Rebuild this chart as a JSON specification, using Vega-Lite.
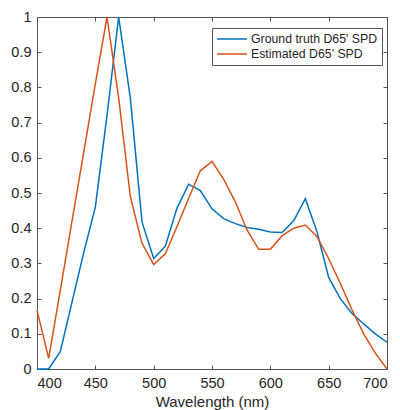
{
  "$schema": "https://vega.github.io/schema/vega-lite/v6.json",
  "autosize": "none",
  "width": 350,
  "height": 352,
  "padding": {"left": 37, "top": 17, "right": 13, "bottom": 41},
  "background": "white",
  "config": {
    "font": "Liberation Sans",
    "view": {"stroke": "#555555", "strokeWidth": 1},
    "axis": {"grid": false, "domainColor": "#555555", "tickColor": "#555555", "labelColor": "#262626", "titleColor": "#262626", "labelFont": "Liberation Sans", "titleFont": "Liberation Sans"}
  },
  "data": {
    "values": [
      {"wl": 400, "v": 0.0, "s": "Ground truth D65' SPD"},
      {"wl": 410, "v": 0.0, "s": "Ground truth D65' SPD"},
      {"wl": 420, "v": 0.05, "s": "Ground truth D65' SPD"},
      {"wl": 430, "v": 0.19, "s": "Ground truth D65' SPD"},
      {"wl": 440, "v": 0.33, "s": "Ground truth D65' SPD"},
      {"wl": 450, "v": 0.46, "s": "Ground truth D65' SPD"},
      {"wl": 460, "v": 0.72, "s": "Ground truth D65' SPD"},
      {"wl": 470, "v": 1.0, "s": "Ground truth D65' SPD"},
      {"wl": 480, "v": 0.77, "s": "Ground truth D65' SPD"},
      {"wl": 490, "v": 0.418, "s": "Ground truth D65' SPD"},
      {"wl": 500, "v": 0.314, "s": "Ground truth D65' SPD"},
      {"wl": 510, "v": 0.349, "s": "Ground truth D65' SPD"},
      {"wl": 520, "v": 0.457, "s": "Ground truth D65' SPD"},
      {"wl": 530, "v": 0.525, "s": "Ground truth D65' SPD"},
      {"wl": 540, "v": 0.507, "s": "Ground truth D65' SPD"},
      {"wl": 550, "v": 0.455, "s": "Ground truth D65' SPD"},
      {"wl": 560, "v": 0.427, "s": "Ground truth D65' SPD"},
      {"wl": 570, "v": 0.413, "s": "Ground truth D65' SPD"},
      {"wl": 580, "v": 0.402, "s": "Ground truth D65' SPD"},
      {"wl": 590, "v": 0.397, "s": "Ground truth D65' SPD"},
      {"wl": 600, "v": 0.389, "s": "Ground truth D65' SPD"},
      {"wl": 610, "v": 0.388, "s": "Ground truth D65' SPD"},
      {"wl": 620, "v": 0.421, "s": "Ground truth D65' SPD"},
      {"wl": 630, "v": 0.484, "s": "Ground truth D65' SPD"},
      {"wl": 640, "v": 0.39, "s": "Ground truth D65' SPD"},
      {"wl": 650, "v": 0.26, "s": "Ground truth D65' SPD"},
      {"wl": 660, "v": 0.2, "s": "Ground truth D65' SPD"},
      {"wl": 670, "v": 0.158, "s": "Ground truth D65' SPD"},
      {"wl": 680, "v": 0.128, "s": "Ground truth D65' SPD"},
      {"wl": 690, "v": 0.1, "s": "Ground truth D65' SPD"},
      {"wl": 700, "v": 0.076, "s": "Ground truth D65' SPD"},
      {"wl": 400, "v": 0.167, "s": "Estimated D65' SPD"},
      {"wl": 410, "v": 0.03, "s": "Estimated D65' SPD"},
      {"wl": 420, "v": 0.224, "s": "Estimated D65' SPD"},
      {"wl": 430, "v": 0.42, "s": "Estimated D65' SPD"},
      {"wl": 440, "v": 0.615, "s": "Estimated D65' SPD"},
      {"wl": 450, "v": 0.81, "s": "Estimated D65' SPD"},
      {"wl": 460, "v": 1.0, "s": "Estimated D65' SPD"},
      {"wl": 470, "v": 0.77, "s": "Estimated D65' SPD"},
      {"wl": 480, "v": 0.49, "s": "Estimated D65' SPD"},
      {"wl": 490, "v": 0.357, "s": "Estimated D65' SPD"},
      {"wl": 500, "v": 0.297, "s": "Estimated D65' SPD"},
      {"wl": 510, "v": 0.327, "s": "Estimated D65' SPD"},
      {"wl": 520, "v": 0.405, "s": "Estimated D65' SPD"},
      {"wl": 530, "v": 0.485, "s": "Estimated D65' SPD"},
      {"wl": 540, "v": 0.563, "s": "Estimated D65' SPD"},
      {"wl": 550, "v": 0.59, "s": "Estimated D65' SPD"},
      {"wl": 560, "v": 0.539, "s": "Estimated D65' SPD"},
      {"wl": 570, "v": 0.475, "s": "Estimated D65' SPD"},
      {"wl": 580, "v": 0.395, "s": "Estimated D65' SPD"},
      {"wl": 590, "v": 0.34, "s": "Estimated D65' SPD"},
      {"wl": 600, "v": 0.34, "s": "Estimated D65' SPD"},
      {"wl": 610, "v": 0.378, "s": "Estimated D65' SPD"},
      {"wl": 620, "v": 0.4, "s": "Estimated D65' SPD"},
      {"wl": 630, "v": 0.409, "s": "Estimated D65' SPD"},
      {"wl": 640, "v": 0.376, "s": "Estimated D65' SPD"},
      {"wl": 650, "v": 0.314, "s": "Estimated D65' SPD"},
      {"wl": 660, "v": 0.243, "s": "Estimated D65' SPD"},
      {"wl": 670, "v": 0.168, "s": "Estimated D65' SPD"},
      {"wl": 680, "v": 0.1, "s": "Estimated D65' SPD"},
      {"wl": 690, "v": 0.045, "s": "Estimated D65' SPD"},
      {"wl": 700, "v": 0.0, "s": "Estimated D65' SPD"}
    ]
  },
  "layer": [
    {
      "mark": {"type": "line", "opacity": 0},
      "encoding": {
        "x": {"field": "wl", "type": "quantitative", "scale": {"domain": [400, 700], "nice": false, "zero": false},
              "axis": {"orient": "top", "labels": false, "title": null, "values": [400, 450, 500, 550, 600, 650, 700], "tickSize": 4, "offset": -4, "domain": false}},
        "y": {"field": "v", "type": "quantitative", "scale": {"domain": [0, 1], "nice": false},
              "axis": {"orient": "right", "labels": false, "title": null, "values": [0, 0.1, 0.2, 0.3, 0.4, 0.5, 0.6, 0.7, 0.8, 0.9, 1], "tickSize": 4, "offset": -4, "domain": false}},
        "detail": {"field": "s"}
      }
    },
    {
      "mark": {"type": "line", "strokeWidth": 1.5},
      "encoding": {
        "x": {"field": "wl", "type": "quantitative",
              "axis": {"orient": "bottom", "title": "Wavelength (nm)", "values": [400, 450, 500, 550, 600, 650, 700], "format": "d", "tickSize": 4, "offset": -4, "labelPadding": 7, "labelFontSize": 14.5, "titleFontSize": 15, "titleFontWeight": "normal", "titlePadding": 5, "domain": false}},
        "y": {"field": "v", "type": "quantitative",
              "axis": {"orient": "left", "title": null, "values": [0, 0.1, 0.2, 0.3, 0.4, 0.5, 0.6, 0.7, 0.8, 0.9, 1], "format": "~g", "tickSize": 4, "offset": -4, "labelPadding": 6, "labelFontSize": 14.5, "domain": false}},
        "color": {"field": "s", "type": "nominal",
                  "scale": {"domain": ["Ground truth D65' SPD", "Estimated D65' SPD"], "range": ["#0072BD", "#D95319"]},
                  "sort": ["Ground truth D65' SPD", "Estimated D65' SPD"],
                  "legend": {"title": null, "orient": "none", "legendX": 175, "legendY": 11, "symbolType": "stroke", "symbolSize": 900, "symbolStrokeWidth": 1.5, "clipHeight": 14, "labelFontSize": 12.3, "labelColor": "#262626", "labelOffset": 3, "rowPadding": 1, "strokeColor": "#555555", "fillColor": "white", "padding": 4}}
      }
    }
  ],
  "resolve": {"axis": {"x": "independent", "y": "independent"}}
}
